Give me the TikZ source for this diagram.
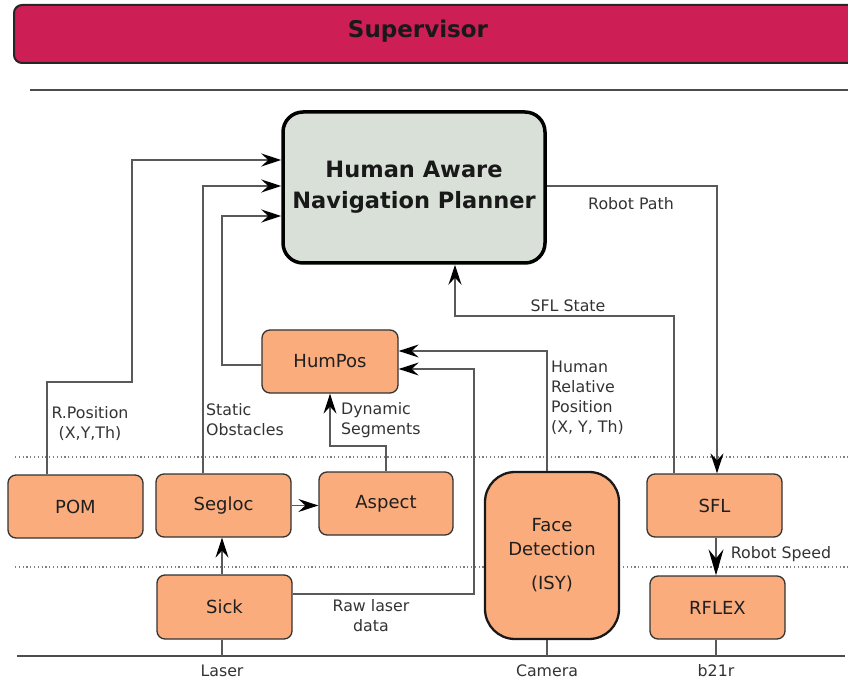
\documentclass[tikz,border=0pt]{standalone}
\usepackage{fontspec}
\setmainfont{DejaVu Sans}
\usetikzlibrary{arrows.meta}
\definecolor{orangebox}{RGB}{250,172,125}
\definecolor{supcol}{RGB}{205,30,85}
\definecolor{plancol}{RGB}{216,224,216}
\tikzset{
  box/.style={draw=black!80, line width=1.3pt, fill=orangebox, rounded corners=8pt,
    minimum width=135pt, minimum height=63pt, inner sep=0pt,
    font=\fontsize{18}{21}\selectfont, text=black!88},
  conn/.style={draw=black!65, line width=1.4pt},
  arr/.style={conn, -{Stealth[length=20pt,width=13pt,inset=7pt,color=black]}},
  bigarr/.style={conn, -{Stealth[length=26pt,width=15pt,inset=9pt,color=black]}},
  lbl/.style={font=\fontsize{15.8}{20}\selectfont, text=black!80, inner sep=0pt},
  sep/.style={draw=black!70, line width=1.3pt},
  dotsep/.style={draw=black!50, line width=1.2pt, dash pattern=on 1.2pt off 2.6pt}
}
\begin{document}
\begin{tikzpicture}[x=1pt,y=-1pt]
\useasboundingbox (0,0) rectangle (848,684);
\clip (0,0) rectangle (848,684);

% Supervisor bar
\node[draw=black!85, line width=2pt, fill=supcol, rounded corners=8pt,
  minimum width=860pt, minimum height=58pt, inner sep=0pt] (sup) at (444,34) {};
\node[font=\fontsize{23}{27}\selectfont\bfseries, text=black!90] (suptext) at (418,31) {Supervisor};

% separators
\draw[sep] (30,90) -- (848,90);
\draw[dotsep] (15,457) -- (848,457);
\draw[dotsep] (15,567) -- (848,567);
\coordinate (base) at (0,656);
\draw[sep] (17,656) -- (845,656);

% planner
\node[draw=black, line width=3.5pt, fill=plancol, rounded corners=20pt,
  minimum width=262pt, minimum height=151pt, inner sep=0pt, align=center,
  font=\fontsize{22.5}{31}\selectfont\bfseries, text=black!90] (hanp) at (414,187.5)
  {Human Aware\\Navigation Planner};

% boxes
\node[box, minimum width=136pt] (humpos) at (330,361.5) {HumPos};
\node[box] (pom) at (75.5,506.5) {POM};
\node[box] (segloc) at (223.5,505.5) {Segloc};
\node[box, minimum width=134pt] (aspect) at (386,503.5) {Aspect};
\node[box, minimum height=64pt] (sick) at (224.5,607) {Sick};
\node[box] (sfl) at (714.5,505.5) {SFL};
\node[box] (rflex) at (717.5,607.5) {RFLEX};
\node[box, minimum width=134pt, minimum height=167pt, rounded corners=30pt,
  line width=2.3pt, draw=black!90, align=center, font=\fontsize{18}{24}\selectfont] (face) at (552,555.5)
  {Face\\Detection\\[10pt](ISY)};

% connectors
\draw[arr] ([xshift=-28.5pt]pom.north) |- (132,382) |- ([yshift=27.5pt]hanp.west);
\draw[arr] ([xshift=-20.5pt]segloc.north) |- ([yshift=1.5pt]hanp.west);
\draw[arr] ([yshift=-3.5pt]humpos.west) -| (222,216) -- ([yshift=-28.5pt]hanp.west);
\draw[arr] (aspect.north) |- (330,446) -- (humpos.south);
\draw[arr] ([xshift=-5pt]face.north) |- ([yshift=10.5pt]humpos.east);
\draw[arr] ([yshift=13pt]sick.east) -| (474,369) -- ([yshift=-7.5pt]humpos.east);
\draw[arr] (segloc.east) -- (segloc.east -| aspect.west);
\draw[arr] ([xshift=-2.5pt]sick.north) -- ([xshift=-1.5pt]segloc.south);
\draw[arr] ([yshift=1.5pt]hanp.east) -| ([xshift=2.5pt]sfl.north);
\draw[arr] ([xshift=-40.5pt]sfl.north) |- (455,316) -- ([xshift=41pt]hanp.south);
\draw[bigarr] ([xshift=1.5pt]sfl.south) -- ([xshift=-1.5pt]rflex.north);

% hardware links
\draw[conn] ([xshift=-2.5pt]sick.south) -- ([xshift=-2.5pt]sick.south |- base);
\draw[conn] ([xshift=-5pt]face.south) -- ([xshift=-5pt]face.south |- base);
\draw[conn] ([xshift=-1.5pt]rflex.south) -- ([xshift=-1.5pt]rflex.south |- base);

% labels
\node[lbl, align=center] (lrpos) at (90,424) {R.Position\\(X,Y,Th)};
\node[lbl, align=left, anchor=west] (lstat) at (206,420) {Static\\Obstacles};
\node[lbl, align=left, anchor=west] (ldyn) at (341,420) {Dynamic\\Segments};
\node[lbl, align=left, anchor=west] (lhum) at (551,398) {Human\\Relative\\Position\\(X, Y, Th)};
\node[lbl, align=center] (lraw) at (371,616) {Raw laser\\data};
\node[lbl] (lpath) at (631,204) {Robot Path};
\node[lbl] (lstate) at (568,306) {SFL State};
\node[lbl] (lspeed) at (781,554) {Robot Speed};
\node[lbl] (llaser) at (222,671) {Laser};
\node[lbl] (lcam) at (547,671) {Camera};
\node[lbl] (lb21r) at (716,671) {b21r};
\end{tikzpicture}
\end{document}
